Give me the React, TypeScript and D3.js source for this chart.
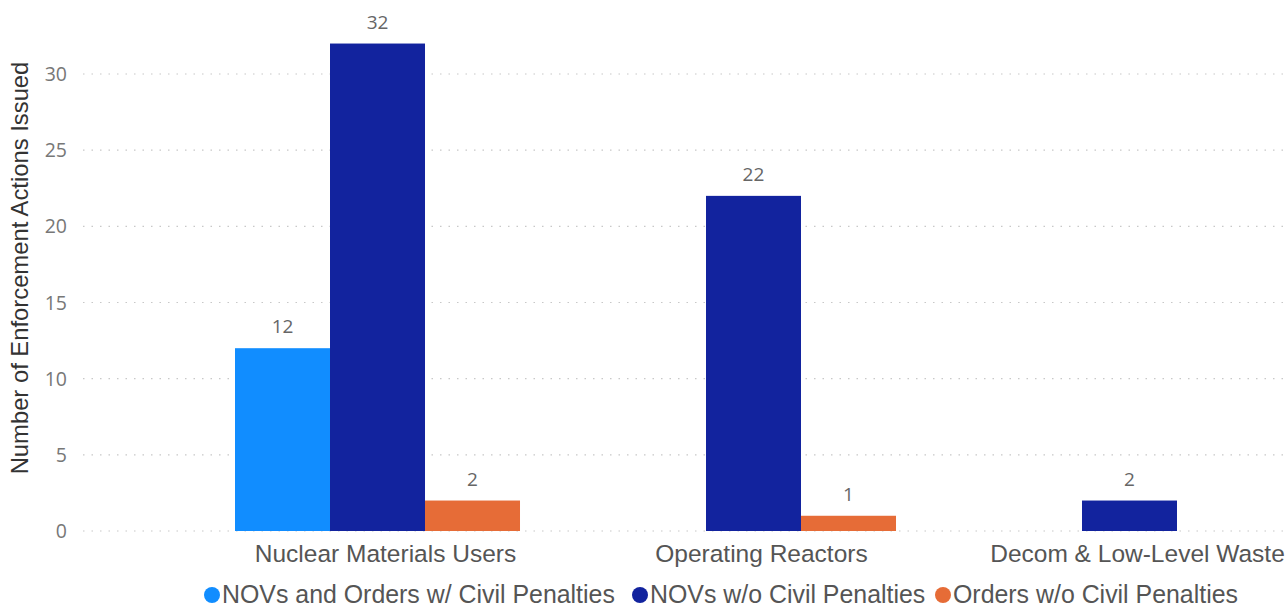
import React from "react";
import * as d3 from "d3";

const categories = ["Nuclear Materials Users", "Operating Reactors", "Decom & Low-Level Waste"];
const seriesNames = ["NOVs and Orders w/ Civil Penalties", "NOVs w/o Civil Penalties", "Orders w/o Civil Penalties"];
const civilPenalties = [12, 0, 0];
const novsWithout = [32, 22, 2];
const ordersWithout = [2, 1, 0];
const yTicks = [0, 5, 10, 15, 20, 25, 30];
const colors = ["#118DFF", "#12239E", "#E66C37"];

const W = 1288;
const H = 607;

export default function App() {
  const values = [civilPenalties, novsWithout, ordersWithout];
  const y = d3.scaleLinear().domain([0, 30]).range([531, 74]);
  const x = d3.scaleBand<string>().domain(categories).range([235, 1272]).paddingInner(0.242).paddingOuter(0);
  const xs = d3.scaleBand<string>().domain(seriesNames).range([0, x.bandwidth()]).padding(0);

  const legendX = [212, 640, 943];

  return (
    <svg width={W} height={H} style={{ position: "absolute", left: 0, top: 0, background: "#fff" }}>
      {yTicks.map((t) => (
        <g key={t}>
          <line x1={83} x2={1286} y1={y(t)} y2={y(t)} stroke="#c8c8c8" strokeWidth={1.2} strokeDasharray="1.5,7" />
          <text x={67} y={y(t)} dy="0.36em" textAnchor="end" fontFamily="'Open Sans', sans-serif" fontSize={19.5} fill="#777">
            {t}
          </text>
        </g>
      ))}
      <text
        transform={`translate(28,${268}) rotate(-90)`}
        textAnchor="middle"
        fontFamily="'Liberation Sans', Arial, sans-serif"
        fontSize={23.8}
        fill="#333"
      >
        Number of Enforcement Actions Issued
      </text>
      {categories.map((c, ci) => (
        <g key={c} transform={`translate(${x(c)},0)`}>
          {seriesNames.map((s, si) => {
            const v = values[si][ci];
            if (!v) return null;
            const bx = xs(s)!;
            return (
              <g key={s}>
                <rect x={bx} y={y(v)} width={xs.bandwidth()} height={y(0) - y(v)} fill={colors[si]} />
                <text x={bx + xs.bandwidth() / 2} y={y(v) - 15} textAnchor="middle" fontFamily="'Open Sans', sans-serif" fontSize={19} fill="#666">
                  {v}
                </text>
              </g>
            );
          })}
          <text x={x.bandwidth() / 2 + 8} y={562} textAnchor="middle" fontFamily="'Liberation Sans', Arial, sans-serif" fontSize={24.5} fill="#555">
            {c}
          </text>
        </g>
      ))}
      {seriesNames.map((s, i) => (
        <g key={s}>
          <circle cx={legendX[i]} cy={595} r={8} fill={colors[i]} />
          <text x={legendX[i] + 10} y={603} fontFamily="'Liberation Sans', Arial, sans-serif" fontSize={24.9} fill="#555">
            {s}
          </text>
        </g>
      ))}
    </svg>
  );
}
